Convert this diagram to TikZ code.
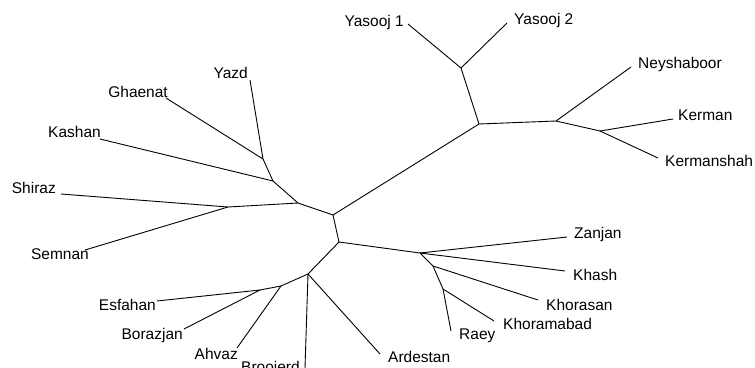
\documentclass[tikz,border=0pt]{standalone}
\usepackage{fontspec}
\setmainfont{Liberation Sans}
\usepackage{tikz}

\tikzset{
  taxon/.style={inner sep=0pt,yshift=-1.5pt,font=\fontsize{15.5}{18}\selectfont},
  branch/.style={line width=0.9pt,line join=round}
}

\begin{document}
\begin{tikzpicture}[x=1pt,y=-1pt]
        \useasboundingbox (0,0) rectangle (755,367);
        % inner nodes of the tree
        \coordinate (c0) at (333,215);
        \coordinate (yq) at (479,124);
        \coordinate (ys) at (461,68);
        \coordinate (ke) at (556,121);
        \coordinate (km) at (600,131);
        \coordinate (wl) at (298,203);
        \coordinate (sh) at (228,207);
        \coordinate (ka) at (273,181);
        \coordinate (yz) at (263,159);
        \coordinate (sd) at (339,242);
        \coordinate (za) at (420,253);
        \coordinate (kh) at (433,266);
        \coordinate (ra) at (443,289);
        \coordinate (br) at (308,274);
        \coordinate (ah) at (281,286);
        \coordinate (es) at (260,290);
        % tips
        \coordinate (tYas1) at (408,24);
        \coordinate (tYas2) at (507,23);
        \coordinate (tNey) at (631,67);
        \coordinate (tKer) at (673,119);
        \coordinate (tKsh) at (658,158);
        \coordinate (tZan) at (567,237);
        \coordinate (tKha) at (565,271);
        \coordinate (tKhr) at (538,300);
        \coordinate (tKhb) at (494,321);
        \coordinate (tRae) at (451,331);
        \coordinate (tArd) at (380,354);
        \coordinate (tBro) at (305,368);
        \coordinate (tAhv) at (237,348);
        \coordinate (tBor) at (184,329);
        \coordinate (tEsf) at (157,301);
        \coordinate (tSem) at (85,250);
        \coordinate (tShi) at (61,194);
        \coordinate (tKas) at (100,139);
        \coordinate (tGha) at (166,98);
        \coordinate (tYaz) at (250,80);
        % branches
        \draw[branch] (c0) -- (yq) -- (ys) -- (tYas1);
        \draw[branch] (ys) -- (tYas2);
        \draw[branch] (yq) -- (ke) -- (tNey);
        \draw[branch] (ke) -- (km) -- (tKer);
        \draw[branch] (km) -- (tKsh);
        \draw[branch] (c0) -- (wl) -- (sh) -- (tShi);
        \draw[branch] (sh) -- (tSem);
        \draw[branch] (wl) -- (ka) -- (tKas);
        \draw[branch] (ka) -- (yz) -- (tGha);
        \draw[branch] (yz) -- (tYaz);
        \draw[branch] (c0) -- (sd) -- (za) -- (tZan);
        \draw[branch] (za) -- (tKha);
        \draw[branch] (za) -- (kh) -- (tKhr);
        \draw[branch] (kh) -- (ra) -- (tKhb);
        \draw[branch] (ra) -- (tRae);
        \draw[branch] (sd) -- (br) -- (tArd);
        \draw[branch] (br) -- (tBro);
        \draw[branch] (br) -- (ah) -- (tAhv);
        \draw[branch] (ah) -- (es) -- (tEsf);
        \draw[branch] (es) -- (tBor);
        % labels
        \node[taxon,anchor=mid east] (Yas1) at (404,22) {Yasooj 1};
        \node[taxon,anchor=mid west] (Yas2) at (514,20) {Yasooj 2};
        \node[taxon,anchor=mid west] (Ney) at (638,64) {Neyshaboor};
        \node[taxon,anchor=mid west] (Ker) at (678,116) {Kerman};
        \node[taxon,anchor=mid west] (Ksh) at (665,162) {Kermanshah};
        \node[taxon,anchor=mid west] (Zan) at (574,234) {Zanjan};
        \node[taxon,anchor=mid west] (Kha) at (573,276) {Khash};
        \node[taxon,anchor=mid west] (Khr) at (546,306) {Khorasan};
        \node[taxon,anchor=mid west] (Khb) at (503,325) {Khoramabad};
        \node[taxon,anchor=mid west] (Rae) at (459,335) {Raey};
        \node[taxon,anchor=mid west] (Ard) at (388,358) {Ardestan};
        \node[taxon,anchor=mid west] (Bro) at (241,368) {Broojerd};
        \node[taxon,anchor=mid east] (Ahv) at (238,355) {Ahvaz};
        \node[taxon,anchor=mid east] (Bor) at (183,335) {Borazjan};
        \node[taxon,anchor=mid east] (Esf) at (156,306) {Esfahan};
        \node[taxon,anchor=mid east] (Sem) at (89,255) {Semnan};
        \node[taxon,anchor=mid east] (Shi) at (56,189) {Shiraz};
        \node[taxon,anchor=mid east] (Kas) at (101,133) {Kashan};
        \node[taxon,anchor=mid east] (Gha) at (168,93) {Ghaenat};
        \node[taxon,anchor=mid east] (Yaz) at (248,74) {Yazd};
    \end{tikzpicture}
\end{document}
